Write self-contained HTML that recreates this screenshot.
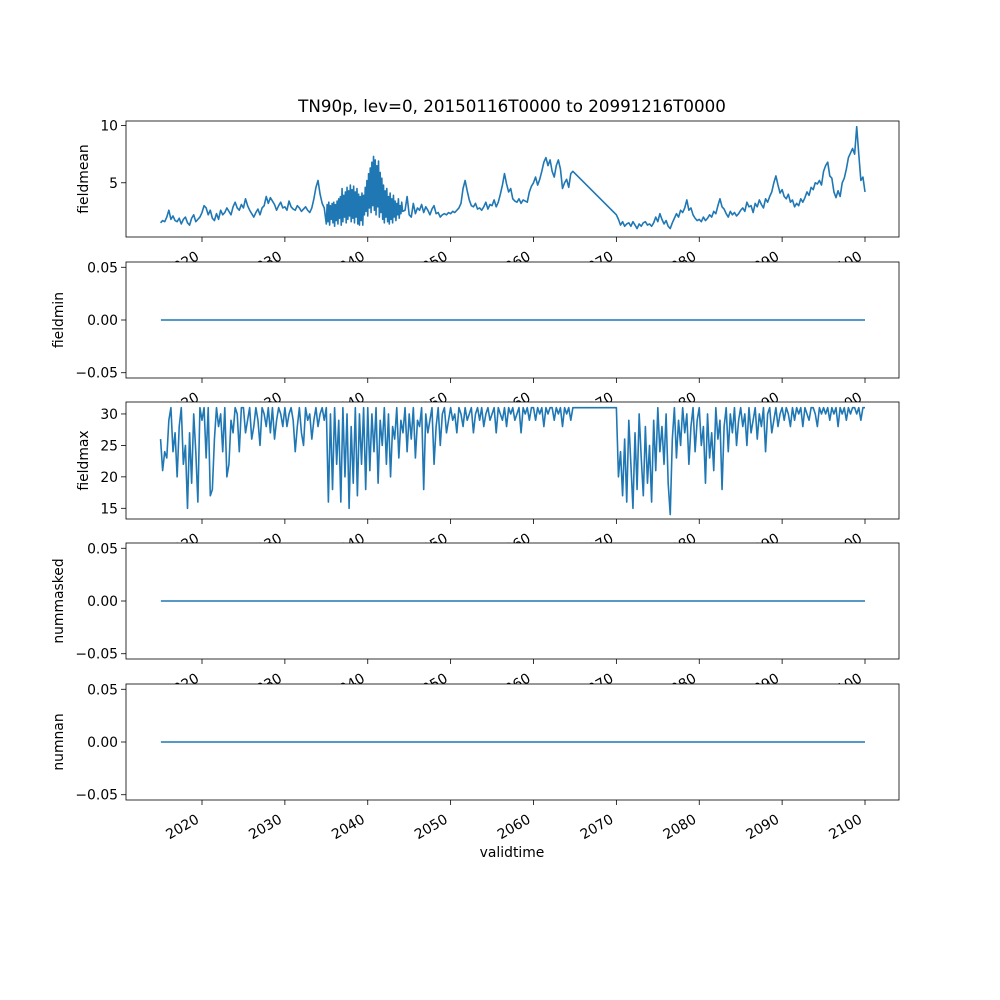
<!DOCTYPE html>
<html><head><meta charset="utf-8"><style>
html,body{margin:0;padding:0;background:#fff}
svg{display:block}
text{font-family:"DejaVu Sans","Liberation Sans",sans-serif;fill:#000}
</style></head><body>
<svg id="fig" width="1000" height="1000" viewBox="0 0 1000 1000">
<rect width="1000" height="1000" fill="#fff"/>
<text x="512" y="112" font-size="16.7" text-anchor="middle">TN90p, lev=0, 20150116T0000 to 20991216T0000</text>
<text x="512" y="857" font-size="13.9" text-anchor="middle">validtime</text>
</svg>
<script>
// ---- data ----
const xTickYears = [2020, 2030, 2040, 2050, 2060, 2070, 2080, 2090, 2100];
const xTickLabels = ["2020", "2030", "2040", "2050", "2060", "2070", "2080", "2090", "2100"];

// fieldmean, quarter-year steps (segment 1: 2015 - 2034.75)
const meanStart1 = 2015;
const meanVals1 = [1.5,1.7,1.6,2.0,2.6,1.8,2.1,1.7,1.6,1.9,1.4,1.8,2.0,1.5,1.3,1.9,2.2,1.6,1.8,2.0,
2.4,3.0,2.8,2.2,2.6,1.9,1.7,2.3,1.8,2.6,2.2,2.4,2.8,2.5,2.2,2.9,3.3,2.8,2.6,3.1,
2.8,3.6,3.0,2.6,2.3,2.0,2.4,2.7,2.2,2.8,3.0,3.8,3.2,3.7,3.4,3.1,2.6,3.0,3.3,2.8,
2.9,2.6,3.4,2.9,2.7,2.6,3.0,2.8,2.5,2.7,2.9,2.6,2.4,2.8,3.6,4.6,5.2,4.0,3.2,2.8];
// dense oscillating stretch at 0.1-year steps
const meanDenseStart = 2035.0;
const meanDenseVals = [1.4,3.1,1.6,3.3,1.3,3.0,1.8,3.2,1.5,3.3,1.2,3.1,1.7,3.4,1.4,3.6,1.9,3.8,1.3,4.5,1.6,3.9,2.0,4.2,1.5,4.6,1.8,4.3,2.1,4.8,1.6,4.4,1.9,4.7,1.5,4.2,2.0,4.5,1.4,4.0,1.3,3.8,1.7,4.1,1.3,3.9,2.2,4.6,2.5,5.2,2.1,5.8,2.8,6.3,2.4,6.8,3.0,7.3,2.6,7.0,2.2,6.5,2.9,6.9,2.0,5.9,2.4,5.4,1.8,4.8,1.5,4.3,2.0,4.5,1.6,3.8,1.4,4.1,1.8,3.6,1.5,3.9,2.0,3.4,1.7,3.2,2.2,3.6,1.9,3.0,2.3,3.3,2.5];
// segment 3: 2044.5 - 2064.75 quarter steps
const meanStart3 = 2044.5;
const meanVals3 = [2.6,3.8,2.2,2.0,3.2,2.3,2.8,2.6,3.1,2.4,2.9,2.6,2.2,2.7,3.0,2.3,2.4,2.0,2.2,2.3,2.2,2.4,
2.3,2.5,2.4,2.6,2.8,3.2,4.5,5.2,4.3,3.5,3.0,2.9,3.2,2.7,2.8,2.6,2.9,3.3,2.7,3.1,
3.0,3.5,2.9,3.3,4.0,4.8,5.8,4.9,4.2,4.5,3.6,3.4,3.3,3.6,3.2,3.5,3.4,3.3,4.2,4.7,
5.0,5.5,4.8,5.3,6.0,6.8,7.2,6.5,7.0,6.0,5.5,6.5,7.0,6.2,4.5,5.0,5.3,4.6,5.8,6.0];
// segment 4: 2070 - 2100 quarter steps
const meanStart4 = 2070;
const meanVals4 = [2.2,
1.8,1.3,1.6,1.2,1.4,1.5,1.2,1.6,1.3,1.0,1.4,1.2,1.5,1.6,1.3,1.4,1.2,1.5,2.0,1.6,
2.3,1.8,1.4,1.7,1.2,1.0,1.5,1.9,2.3,2.0,2.6,2.4,2.8,3.5,2.6,2.8,2.2,1.9,1.7,1.8,
1.6,2.0,1.7,1.9,2.2,2.0,2.5,2.3,3.0,3.6,2.9,2.7,2.3,2.0,2.5,2.2,2.4,2.1,2.3,2.6,
2.8,2.5,3.3,2.9,3.0,2.4,3.2,2.9,3.5,3.1,2.8,3.6,3.3,3.8,4.2,5.0,5.6,4.8,4.1,4.4,
3.8,3.6,4.0,3.3,3.5,2.9,3.2,3.0,3.6,3.3,3.7,4.2,3.9,4.6,4.4,5.0,4.9,5.2,4.8,6.0,
6.5,6.8,5.6,5.4,4.2,3.7,4.3,3.8,5.0,5.4,6.2,7.2,7.6,8.0,7.5,9.9,7.5,5.2,5.5,4.2];

// fieldmax at quarter-year steps
const maxStartA = 2015;
const maxValsA = [26,21,24,23,29,31,24,27,20,28,31,22,25,15,27,19,30,24,16,31,
29,31,23,31,17,18,26,31,28,30,24,31,20,22,29,27,31,30,24,31,
31,27,29,31,26,28,31,29,25,31,30,28,31,27,31,26,29,31,30,28,
31,28,30,31,29,24,28,31,27,25,31,29,30,26,29,31,28,30,31,29,
31,16,30,18,31,22,29,16,31,20,30,15,28,19,31,17,30,22,31,18,
31,21,30,24,31,19,29,25,31,22,30,20,28,26,31,23,29,27,31,24,
30,26,31,23,29,28,31,18,30,27,29,31,22,28,31,25,30,31,27,29,
31,29,30,27,31,30,28,31,29,30,31,27,30,31,29,31,28,30,31,29,
30,31,27,31,30,29,31,28,31,30,31,29,30,31,27,31,30,31,29,31,
31,29,31,30,31,28,31,30,31,31,29,31,30,31,28,31,30,31,29,31,31];
const maxStartB = 2070;
const maxValsB = [31,20,24,17,26,16,29,22,15,27,18,30,23,17,28,19,25,16,29,21,
31,24,28,22,30,19,14,26,31,23,29,25,31,27,30,22,28,31,24,29,
31,25,28,19,30,23,27,21,31,26,29,18,28,31,24,30,27,31,25,29,
31,28,30,25,31,27,29,31,26,30,28,31,24,30,31,27,29,31,28,30,
31,29,31,30,28,31,29,31,30,31,28,31,30,29,31,31,30,28,31,30,
31,30,31,29,31,30,31,28,31,30,31,29,31,30,31,31,30,31,29,31,31];

const zeroYears = [2015.04, 2100];
const zeroVals = [0, 0];

const meanTicks = [5, 10];
const meanTickLabels = ["5", "10"];
const zeroTicks = [-0.05, 0, 0.05];
const zeroTickLabels = ["\u22120.05", "0.00", "0.05"];
const maxTicks = [15, 20, 25, 30];
const maxTickLabels = ["15", "20", "25", "30"];

// ---- build series ----
function pushSeg(xs, ys, start, step, vals){ vals.forEach((v,i)=>{xs.push(start+i*step); ys.push(v);}); }
function buildMean(){
  const xs=[], ys=[];
  pushSeg(xs,ys,meanStart1,0.25,meanVals1);
  pushSeg(xs,ys,meanDenseStart,0.1,meanDenseVals);
  pushSeg(xs,ys,meanStart3,0.25,meanVals3);
  pushSeg(xs,ys,meanStart4,0.25,meanVals4);
  return [xs,ys];
}
function buildMax(){
  const xs=[], ys=[];
  pushSeg(xs,ys,maxStartA,0.25,maxValsA);
  pushSeg(xs,ys,maxStartB,0.25,maxValsB);
  return [xs,ys];
}

const NS="http://www.w3.org/2000/svg";
const svg=document.getElementById('fig');
const X0=126, X1=899;
function xScale(yr){ return 202 + (yr-2020)*(865-202)/80; }
function mk(tag, attrs){ const e=document.createElementNS(NS,tag); for(const k in attrs) e.setAttribute(k,attrs[k]); return e; }

const panels=[
  {name:'fieldmean', top:121, bot:237, vmin:0.26, vmax:10.4, ticks:meanTicks, labels:meanTickLabels, series:buildMean(), ylx:88},
  {name:'fieldmin', top:262, bot:378, vmin:-0.055, vmax:0.055, ticks:zeroTicks, labels:zeroTickLabels, series:[zeroYears,zeroVals], ylx:63},
  {name:'fieldmax', top:402, bot:519, vmin:13.3, vmax:31.9, ticks:maxTicks, labels:maxTickLabels, series:buildMax(), ylx:88},
  {name:'nummasked', top:543, bot:659, vmin:-0.055, vmax:0.055, ticks:zeroTicks, labels:zeroTickLabels, series:[zeroYears,zeroVals], ylx:63},
  {name:'numnan', top:684, bot:800, vmin:-0.055, vmax:0.055, ticks:zeroTicks, labels:zeroTickLabels, series:[zeroYears,zeroVals], ylx:63}
];

panels.forEach(p=>{
  const g=mk('g',{});
  
  
  svg.appendChild(g);
  const yScale=v=> p.bot - (v-p.vmin)/(p.vmax-p.vmin)*(p.bot-p.top);
  const bg=mk('rect',{x:X0,y:p.top,width:X1-X0,height:p.bot-p.top,fill:'#fff'});
  
  
  g.appendChild(bg);
  const [xs,ys]=p.series;
  const d=xs.map((x,i)=>(i?'L':'M')+xScale(x).toFixed(2)+','+yScale(ys[i]).toFixed(2)).join('');
  const line=mk('path',{d:d,fill:'none',stroke:'#1f77b4','stroke-width':1.6,'stroke-linejoin':'round'});
  
  
  g.appendChild(line);
  const frame=mk('rect',{x:X0,y:p.top,width:X1-X0,height:p.bot-p.top,fill:'none',stroke:'#000','stroke-width':0.8});
  
  
  g.appendChild(frame);
  p.ticks.forEach((t,i)=>{
    const y=yScale(t);
    const tk=mk('line',{x1:X0-5,x2:X0,y1:y,y2:y,stroke:'#000','stroke-width':0.8});
    
    
    g.appendChild(tk);
    const tl=mk('text',{x:X0-8,y:y+5,'font-size':13.9,'text-anchor':'end'});
    tl.textContent=p.labels[i];
    
    
    g.appendChild(tl);
  });
  const cy=(p.top+p.bot)/2;
  const yl=mk('text',{x:p.ylx,y:cy,'font-size':13.9,'text-anchor':'middle',transform:`rotate(-90 ${p.ylx} ${cy})`});
  yl.textContent=p.name;
  
  
  g.appendChild(yl);
  xTickYears.forEach((yr,i)=>{
    const x=xScale(yr);
    const tk=mk('line',{x1:x,x2:x,y1:p.bot,y2:p.bot+5,stroke:'#000','stroke-width':0.8});
    
    
    g.appendChild(tk);
    const ax=x-2, ay=p.bot+22;
    const tl=mk('text',{x:ax,y:ay,'font-size':13.9,'text-anchor':'end',transform:`rotate(-30 ${ax} ${ay})`});
    tl.textContent=xTickLabels[i];
    
    
    g.appendChild(tl);
  });
});
</script>
</body></html>
